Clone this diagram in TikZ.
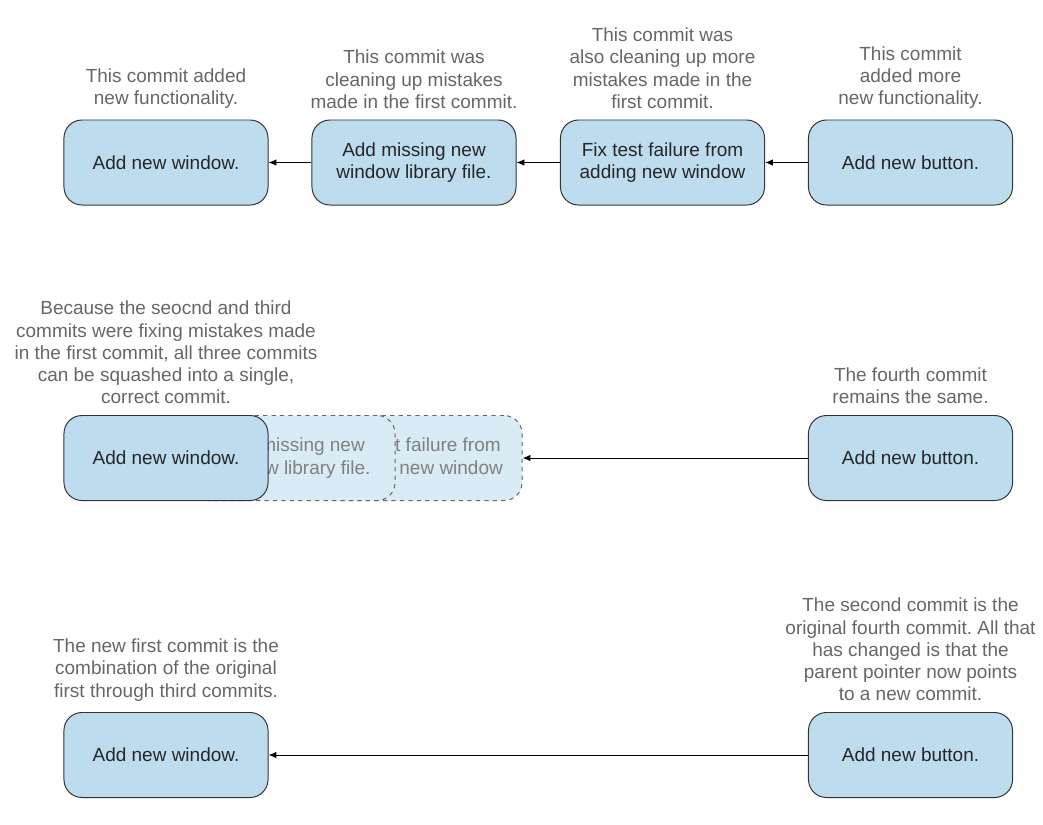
\documentclass[tikz,border=0pt]{standalone}
\usepackage{fontspec}
\setmainfont{Liberation Sans}
\usetikzlibrary{positioning, arrows.meta}
\definecolor{commitblue}{HTML}{BDDDEE}
\definecolor{ghostblue}{HTML}{D9EBF5}
\definecolor{notegray}{HTML}{666666}
\frenchspacing

\tikzset{
    commit/.style={draw=black!80, fill=commitblue, rounded corners=0.45cm,
        minimum width=5.1cm, minimum height=2.125cm, align=center,
        text=black!85, line width=0.7pt, font=\fontsize{13.5}{15.8}\selectfont},
    ghost/.style={commit, dashed, draw=black!60, fill=ghostblue, text=black!50},
    note/.style={align=center, text=notegray, font=\fontsize{13.5}{15.8}\selectfont},
    link/.style={-{Latex[length=5.5pt, width=4.5pt]}, line width=0.7pt},
}

\begin{document}
\begin{tikzpicture}[x=0.025cm, y=-0.025cm]
    \useasboundingbox (0, 0) rectangle (1043, 824);

    % original history
    \node [commit] (a1) at (166, 162.5) {Add new window.};
    \node [commit] (a2) at (414, 162.5) {Add missing new\\window library file.};
    \node [commit] (a3) at (662.5, 162.5) {Fix test failure from\\adding new window};
    \node [commit] (a4) at (910.5, 162.5) {Add new button.};
    \draw [link] (a2) -- (a1);
    \draw [link] (a3) -- (a2);
    \draw [link] (a4) -- (a3);

    \node [note, above=0.15cm of a1] {This commit added\\new functionality.};
    \node [note, above=0.15cm of a2] {This commit was\\cleaning up mistakes\\made in the first commit.};
    \node [note, above=0.15cm of a3] {This commit was\\also cleaning up more\\mistakes made in the\\first commit.};
    \node [note, above=0.15cm of a4] {This commit\\added more\\new functionality.};

    % squashing
    \node [ghost] (g3) at (420, 458) {Fix test failure from\\adding new window};
    \node [ghost] (g2) at (293, 458) {Add missing new\\window library file.};
    \node [commit] (b1) at (166, 458) {Add new window.};
    \node [commit] (b4) at (910.5, 458) {Add new button.};
    \draw [link] (b4) -- (g3);

    \node [note, above=0.15cm of b1] {Because the seocnd and third\\commits were fixing mistakes made\\in the first commit, all three commits\\can be squashed into a single,\\correct commit.};
    \node [note, above=0.15cm of b4] {The fourth commit\\remains the same.};

    % new history
    \node [commit] (c1) at (166, 755) {Add new window.};
    \node [commit] (c4) at (910.5, 755) {Add new button.};
    \draw [link] (c4) -- (c1);

    \node [note, above=0.15cm of c1] {The new first commit is the\\combination of the original\\first through third commits.};
    \node [note, above=0.15cm of c4] {The second commit is the\\original fourth commit. All that\\has changed is that the\\parent pointer now points\\to a new commit.};
\end{tikzpicture}
\end{document}
